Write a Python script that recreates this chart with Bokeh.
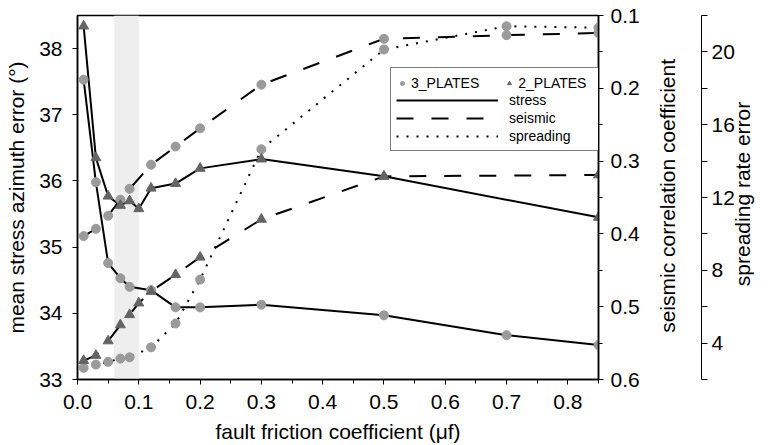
import math
from bokeh.plotting import figure
from bokeh.models import (Range1d, LinearAxis, FixedTicker, PrintfTickFormatter,
                          BoxAnnotation, Legend, LegendItem)
from bokeh.embed import file_html
from bokeh.resources import INLINE

# ---------------- data ----------------
mu_3 = [0.01, 0.03, 0.05, 0.07, 0.085, 0.12, 0.16, 0.2, 0.3, 0.5, 0.7, 0.85]
mu_2 = [0.01, 0.03, 0.05, 0.07, 0.085, 0.1, 0.12, 0.16, 0.2, 0.3, 0.5, 0.85]

stress_3 = [37.53, 35.98, 34.76, 34.53, 34.40, 34.35, 34.09, 34.09, 34.13, 33.97, 33.67, 33.52]
stress_2 = [38.34, 36.35, 35.77, 35.63, 35.70, 35.58, 35.89, 35.96, 36.19, 36.33, 36.07, 35.45]

seismic_3 = [0.403, 0.393, 0.375, 0.353, 0.338, 0.305, 0.280, 0.255, 0.195, 0.132, 0.127, 0.124]
seismic_2 = [0.574, 0.567, 0.547, 0.525, 0.511, 0.495, 0.479, 0.456, 0.432, 0.380, 0.321, 0.319]

spreading_3 = [2.64, 2.82, 2.97, 3.15, 3.22, 3.77, 5.08, 7.49, 14.65, 20.13, 21.41, 21.33]

shade_band = [0.06, 0.1]

x_ticks = [0.0, 0.1, 0.2, 0.3, 0.4, 0.5, 0.6, 0.7, 0.8]
x_minor = [0.05, 0.15, 0.25, 0.35, 0.45, 0.55, 0.65, 0.75, 0.85]
stress_ticks = [33, 34, 35, 36, 37, 38]
seis_ticks = [0.1, 0.2, 0.3, 0.4, 0.5, 0.6]
seis_minor = [0.15, 0.25, 0.35, 0.45, 0.55]
spread_ticks = [4, 8, 12, 16, 20]
spread_minor = [2, 6, 10, 14, 18, 22]

x_label = "fault friction coefficient (μf)"
stress_label = "mean stress azimuth error (°)"
seis_label = "seismic correlation coefficient"
spread_label = "spreading rate error"
group_names = ["3_PLATES", "2_PLATES"]
series_names = ["stress", "seismic", "spreading"]

# ---------------- style ----------------
FONT = "Liberation Sans"
TICK_FS = "21px"
LAB_FS = "21px"
C3 = "#9a9a9a"
C2 = "#646464"
DASH = "17 18"
DOT = "2 8"
NB = "\u00a0"

p = figure(width=771, height=445,
           x_range=Range1d(0, 0.85), y_range=Range1d(33, 38.5),
           output_backend="svg", toolbar_location=None,
           min_border_left=77, min_border_right=173,
           min_border_top=15, min_border_bottom=64)
p.extra_y_ranges = {"seis": Range1d(start=0.6, end=0.1),
                    "spread": Range1d(start=2, end=22)}
p.grid.visible = False
p.outline_line_color = "black"
p.outline_line_width = 1.5
p.background_fill_color = "white"
p.border_fill_color = "white"

band = BoxAnnotation(left=shade_band[0], right=shade_band[1],
                     fill_color="#eeeeee", fill_alpha=1.0,
                     line_color=None, level="underlay")
p.add_layout(band)

# lines
l_st3 = p.line(mu_3, stress_3, line_color="black", line_width=2)
l_st2 = p.line(mu_2, stress_2, line_color="black", line_width=2)
l_se3 = p.line(mu_3, seismic_3, y_range_name="seis", line_color="black",
               line_width=2, line_dash=DASH)
l_se2 = p.line(mu_2, seismic_2, y_range_name="seis", line_color="black",
               line_width=2, line_dash=DASH)
l_sp3 = p.line(mu_3, spreading_3, y_range_name="spread", line_color="black",
               line_width=2, line_dash=DOT)

# markers
m_c1 = p.scatter(mu_3, stress_3, marker="circle", size=9,
                 fill_color=C3, line_color=C3)
p.scatter(mu_3, seismic_3, y_range_name="seis", marker="circle", size=9,
          fill_color=C3, line_color=C3)
p.scatter(mu_3, spreading_3, y_range_name="spread", marker="circle", size=9,
          fill_color=C3, line_color=C3)
m_t1 = p.scatter(mu_2, stress_2, marker="triangle", size=10,
                 fill_color=C2, line_color=C2)
p.scatter(mu_2, seismic_2, y_range_name="seis", marker="triangle", size=10,
          fill_color=C2, line_color=C2)

def style_axis(ax):
    ax.axis_line_color = "black"
    ax.axis_line_width = 1.5
    ax.major_tick_line_color = "black"
    ax.minor_tick_line_color = "black"
    ax.major_tick_in = 0
    ax.minor_tick_in = 0
    ax.major_tick_out = 5
    ax.minor_tick_out = 4
    ax.major_label_text_font = FONT
    ax.major_label_text_font_size = TICK_FS
    ax.major_label_text_color = "black"
    ax.axis_label_text_font = FONT
    ax.axis_label_text_font_size = LAB_FS
    ax.axis_label_text_font_style = "normal"
    ax.axis_label_text_color = "black"

# x axis
xa = p.xaxis[0]
style_axis(xa)
xa.ticker = FixedTicker(ticks=x_ticks, minor_ticks=x_minor)
xa.formatter = PrintfTickFormatter(format="%.1f")
xa.axis_label = x_label
xa.major_label_standoff = 10
xa.axis_label_standoff = 8

# left axis
ya = p.yaxis[0]
style_axis(ya)
ya.ticker = FixedTicker(ticks=stress_ticks, minor_ticks=[])
ya.axis_label = stress_label
ya.major_label_standoff = 10
ya.axis_label_standoff = 8

# seismic axis (right) with its title reading bottom-to-top
sa = LinearAxis(y_range_name="seis",
                ticker=FixedTicker(ticks=seis_ticks, minor_ticks=seis_minor),
                formatter=PrintfTickFormatter(format="%.1f"),
                axis_label=NB * 8 + seis_label)
style_axis(sa)
sa.major_label_standoff = 7
sa.axis_label_standoff = 25
sa.axis_label_orientation = math.pi / 2
sa.axis_label_align = "end"
p.add_layout(sa, "right")

# spacer between the two right axes
gap = LinearAxis(ticker=FixedTicker(ticks=[35.75], minor_ticks=[]),
                 major_label_overrides={35.75: ""},
                 axis_line_color=None, major_tick_line_color=None,
                 minor_tick_line_color=None, major_tick_in=0, major_tick_out=8,
                 minor_tick_in=0, minor_tick_out=0, major_label_standoff=0)
p.add_layout(gap, "right")

# spreading axis (far right)
pa = LinearAxis(y_range_name="spread",
                ticker=FixedTicker(ticks=spread_ticks, minor_ticks=spread_minor),
                axis_label=NB * 16 + spread_label)
style_axis(pa)
pa.axis_line_width = 1
pa.major_tick_out = 6
pa.minor_tick_out = 6
pa.major_label_standoff = 4
pa.axis_label_standoff = 5
pa.axis_label_text_line_height = 0.6
pa.axis_label_orientation = math.pi / 2
pa.axis_label_align = "start"
p.add_layout(pa, "right")

# legend: line styles (box) + markers row on top
leg_lines = Legend(items=[LegendItem(label=series_names[0], renderers=[l_st3]),
                          LegendItem(label=series_names[1], renderers=[l_se3]),
                          LegendItem(label=series_names[2], renderers=[l_sp3])],
                   location=(313, 228), orientation="vertical",
                   title=" ", title_text_font=FONT, title_text_font_size="14px",
                   title_standoff=2,
                   padding=5, margin=0, spacing=0,
                   glyph_width=102, glyph_height=18, label_height=18,
                   label_standoff=11, label_width=87,
                   label_text_font=FONT, label_text_font_size="14px",
                   label_text_color="black",
                   border_line_color="black", border_line_width=1,
                   background_fill_color="white", background_fill_alpha=1.0)
p.add_layout(leg_lines)

leg_marks = Legend(items=[LegendItem(label=group_names[0], renderers=[m_c1]),
                          LegendItem(label=group_names[1], renderers=[m_t1])],
                   location=(320, 287), orientation="horizontal",
                   padding=0, margin=0, spacing=25,
                   glyph_width=10, glyph_height=18, label_height=18,
                   label_standoff=4,
                   label_text_font=FONT, label_text_font_size="14px",
                   label_text_color="black",
                   border_line_color=None, background_fill_alpha=0.0)
p.add_layout(leg_marks)

open("out.html", "w").write(file_html(p, INLINE))
